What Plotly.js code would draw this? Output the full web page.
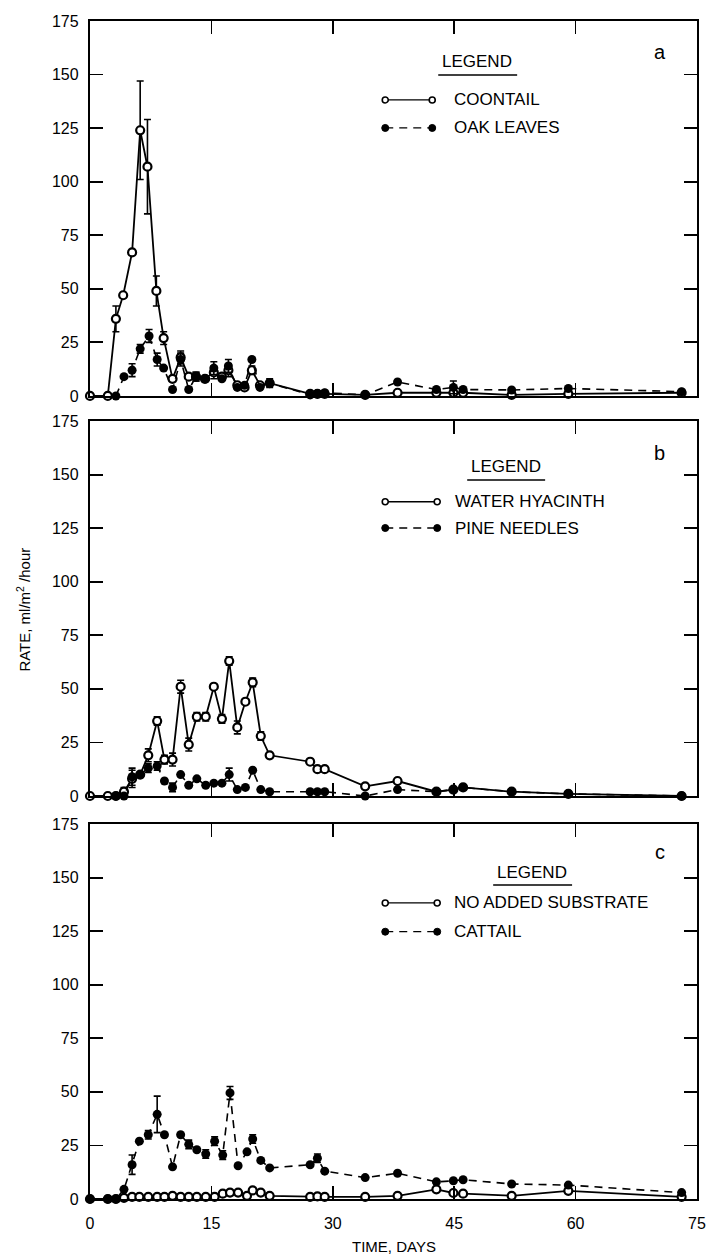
<!DOCTYPE html>
<html>
<head>
<meta charset="utf-8">
<script src="https://cdn.plot.ly/plotly-3.0.1.min.js"></script>
<style>html,body{margin:0;padding:0;background:#fff;}#chart{width:720px;height:1255px;}</style>
</head>
<body>
<div id="chart"></div>
<script>
// ---------- DATA ----------
// Panel a
const daysA_coon = [0, 2.2, 3.2, 4.1, 5.2, 6.2, 7.1, 8.2, 9.1, 10.2, 11.2, 12.2, 13.1, 14.2, 15.3, 16.3, 17.1, 18.2, 19.1, 20.0, 21.0, 22.2, 27.2, 28.1, 29.0, 34.0, 38.0, 42.8, 44.9, 46.1, 52.1, 59.1, 73.1];
const rateA_coon = [0, 0, 36, 47, 67, 124, 107, 49, 27, 8, 18, 9, 9, 8, 11, 9, 12, 5, 4, 12, 5, 6, 1, 1, 1, 0.5, 1.5, 1.5, 1.5, 1.5, 0.5, 1, 1.5];
const errA_coon  = [0, 0, 6, 0, 0, 23, 22, 7, 3, 0, 3, 0, 2, 0, 3, 0, 3, 0, 0, 2, 0, 2, 0, 0, 0, 0, 0, 0, 0, 0, 0, 0, 0];
const daysA_oak = [3.2, 4.2, 5.2, 6.2, 7.3, 8.3, 9.1, 10.2, 11.2, 12.2, 13.1, 14.3, 15.3, 16.3, 17.1, 18.2, 19.1, 20.0, 21.0, 22.2, 27.2, 28.1, 29.0, 34.0, 38.0, 42.8, 44.9, 46.1, 52.1, 59.1, 73.1];
const rateA_oak = [0, 9, 12, 22, 28, 17, 13, 3, 17, 3, 9, 8, 13, 8, 14, 4, 5, 17, 4, 6, 0.5, 1, 1.5, 0.5, 6.5, 3, 4, 3, 2.8, 3.5, 2];
const errA_oak  = [0, 0, 3, 2, 3, 3, 0, 0, 3, 0, 2, 0, 3, 0, 3, 0, 0, 0, 0, 0, 0, 0, 0, 0, 0, 0, 3, 0, 0, 0, 0];

// Panel b
const daysB_hya = [0, 2.2, 3.2, 4.2, 5.2, 6.2, 7.2, 8.3, 9.2, 10.2, 11.2, 12.2, 13.2, 14.3, 15.3, 16.3, 17.2, 18.2, 19.2, 20.1, 21.1, 22.2, 27.2, 28.1, 29.0, 34.0, 38.0, 42.8, 44.9, 46.1, 52.1, 59.1, 73.1];
const rateB_hya = [0, 0, 0, 2, 8, 10, 19, 35, 17, 17, 51, 24, 37, 37, 51, 36, 63, 32, 44, 53, 28, 19, 16, 12.5, 12.5, 4.5, 7, 2, 3, 4, 2, 1, 0];
const errB_hya  = [0, 0, 0, 2, 4, 0, 3, 2, 2, 3, 3, 3, 2, 2, 0, 2, 2, 3, 0, 2, 2, 0, 0, 0, 0, 0, 0, 0, 0, 0, 0, 0, 0];
const daysB_pine = [3.2, 4.2, 5.2, 6.2, 7.2, 8.3, 9.2, 10.2, 11.2, 12.2, 13.2, 14.3, 15.3, 16.3, 17.2, 18.2, 19.2, 20.1, 21.1, 22.2, 27.2, 28.1, 29.0, 34.0, 38.0, 42.8, 44.9, 46.1, 52.1, 59.1, 73.1];
const rateB_pine = [0, 0, 9, 10, 13, 14, 7, 4, 10, 5, 8, 5, 6, 6, 10, 3, 4, 12, 3, 2, 2, 2, 2, 0, 3, 2, 3, 4, 2, 1, 0];
const errB_pine  = [0, 0, 4, 0, 2, 2, 0, 2, 0, 0, 0, 0, 0, 0, 3, 0, 0, 0, 0, 0, 0, 0, 0, 0, 0, 0, 0, 0, 0, 0, 0];

// Panel c
const daysC = [0, 2.2, 3.2, 4.2, 5.2, 6.1, 7.2, 8.3, 9.2, 10.2, 11.2, 12.2, 13.2, 14.3, 15.4, 16.4, 17.3, 18.3, 19.4, 20.1, 21.1, 22.2, 27.2, 28.1, 29.0, 34.0, 38.0, 42.8, 44.9, 46.1, 52.1, 59.1, 73.1];
const rateC_none = [0, 0, 0, 0.5, 1, 1, 1, 1, 1, 1.5, 1, 1, 1, 1, 1, 2.5, 3, 3, 1.5, 4, 3, 1.5, 1, 1.2, 1, 1, 1.5, 4.5, 2.8, 2.5, 1.5, 3.8, 1];
const rateC_cat  = [0, 0, 0, 4.5, 16, 27, 30, 39.5, 30, 15, 30, 25.5, 23, 21, 27, 20.5, 49.5, 15.5, 22, 28, 18, 14.5, 16, 19, 13, 10, 12, 8, 8.5, 9, 7, 6.5, 3];
const errC_cat   = [0, 0, 0, 0, 4.5, 0, 2, 8.5, 0, 0, 0, 2, 0, 2, 2, 2, 3, 0, 0, 2, 0, 0, 0, 2, 0, 0, 0, 0, 0, 0, 0, 0, 0];

const xTicks = [0, 15, 30, 45, 60, 75];
const yTicks = [0, 25, 50, 75, 100, 125, 150, 175];
const legendNames = [["COONTAIL", "OAK LEAVES"], ["WATER HYACINTH", "PINE NEEDLES"], ["NO ADDED SUBSTRATE", "CATTAIL"]];
const panelLetters = ["a", "b", "c"];

// ---------- TRACES ----------
const FONT = "Liberation Sans, Arial, sans-serif";
function solidTrace(x, y, err, xa, ya, name) {
  return {
    type: "scatter", mode: "lines+markers", x: x, y: y, xaxis: xa, yaxis: ya, name: name,
    line: {color: "black", width: 1.8},
    marker: {symbol: "circle", size: 8, color: "white", line: {color: "black", width: 2.2}},
    error_y: err ? {type: "data", array: err, visible: true, color: "black", thickness: 1.6, width: 3.5} : undefined,
    cliponaxis: false, showlegend: false
  };
}
function dashTrace(x, y, err, xa, ya, name) {
  return {
    type: "scatter", mode: "lines+markers", x: x, y: y, xaxis: xa, yaxis: ya, name: name,
    line: {color: "black", width: 1.6, dash: "8px,6px"},
    marker: {symbol: "circle", size: 9, color: "black"},
    error_y: err ? {type: "data", array: err, visible: true, color: "black", thickness: 1.6, width: 3.5} : undefined,
    cliponaxis: false, showlegend: false
  };
}

const data = [
  solidTrace(daysA_coon, rateA_coon, errA_coon, "x", "y", legendNames[0][0]),
  dashTrace(daysA_oak, rateA_oak, errA_oak, "x", "y", legendNames[0][1]),
  solidTrace(daysB_hya, rateB_hya, errB_hya, "x2", "y2", legendNames[1][0]),
  dashTrace(daysB_pine, rateB_pine, errB_pine, "x2", "y2", legendNames[1][1]),
  solidTrace(daysC, rateC_none, null, "x3", "y3", legendNames[2][0]),
  dashTrace(daysC, rateC_cat, errC_cat, "x3", "y3", legendNames[2][1])
];

// ---------- LAYOUT ----------
const domains = [[0.6817, 1.0], [0.3421, 0.6604], [0.0, 0.3183]];
function xAxis(anchor, showLabels) {
  return {
    domain: [0, 1], anchor: anchor, range: [0, 75], tickvals: xTicks, ticktext: xTicks.map(String),
    ticks: "inside", ticklen: 13, tickwidth: 1.8, tickcolor: "black",
    showline: true, linewidth: 2.2, linecolor: "black", mirror: "ticks",
    showgrid: false, zeroline: false, showticklabels: showLabels,
    tickfont: {family: FONT, size: 16, color: "black"}, ticklabelstandoff: 9
  };
}
function yAxis(anchor, dom) {
  return {
    domain: dom, anchor: anchor, range: [0, 175], tickvals: yTicks, ticktext: yTicks.map(String),
    ticks: "inside", ticklen: 13, tickwidth: 1.8, tickcolor: "black",
    showline: true, linewidth: 2.2, linecolor: "black", mirror: "ticks",
    showgrid: false, zeroline: false,
    tickfont: {family: FONT, size: 16, color: "black"}, ticklabelstandoff: 6
  };
}

// legend geometry (paper coords) per panel
const legPos = [
  {lx: 0.638, ly: 0.9660, ux0: 0.5737, ux1: 0.7037, uy: 0.9542, e1: 0.9330, e2: 0.9092, lx0: 0.4864, lx1: 0.5638, tx: 0.5967, let: [0.939, 0.9737]},
  {lx: 0.6856, ly: 0.6214, ux0: 0.6214, ux1: 0.7498, uy: 0.6104, e1: 0.5919, e2: 0.5696, lx0: 0.4864, lx1: 0.5720, tx: 0.5984, let: [0.939, 0.6333]},
  {lx: 0.7284, ly: 0.2772, ux0: 0.6642, ux1: 0.7942, uy: 0.2666, e1: 0.2513, e2: 0.2269, lx0: 0.4864, lx1: 0.5720, tx: 0.5967, let: [0.939, 0.2948]}
];

const annotations = [];
const shapes = [];
legPos.forEach((p, i) => {
  annotations.push({xref: "paper", yref: "paper", x: p.lx, y: p.ly, text: "LEGEND", showarrow: false,
    xanchor: "center", yanchor: "middle", font: {family: FONT, size: 17, color: "black"}});
  shapes.push({type: "line", xref: "paper", yref: "paper", x0: p.ux0, x1: p.ux1, y0: p.uy, y1: p.uy, line: {color: "black", width: 1.5}});
  shapes.push({type: "line", xref: "paper", yref: "paper", x0: p.lx0, x1: p.lx1, y0: p.e1, y1: p.e1, line: {color: "black", width: 1.3}});
  shapes.push({type: "line", xref: "paper", yref: "paper", x0: p.lx0, x1: p.lx1, y0: p.e2, y1: p.e2, line: {color: "black", width: 1.3, dash: "8px,6px"}});
  [p.lx0, p.lx1].forEach(xx => {
    shapes.push({type: "circle", xref: "paper", yref: "paper", xsizemode: "pixel", ysizemode: "pixel",
      xanchor: xx, yanchor: p.e1, x0: -3, x1: 3, y0: -3, y1: 3, fillcolor: "white", line: {color: "black", width: 1.6}});
    shapes.push({type: "circle", xref: "paper", yref: "paper", xsizemode: "pixel", ysizemode: "pixel",
      xanchor: xx, yanchor: p.e2, x0: -3.5, x1: 3.5, y0: -3.5, y1: 3.5, fillcolor: "black", line: {color: "black", width: 1}});
  });
  annotations.push({xref: "paper", yref: "paper", x: p.tx, y: p.e1, text: legendNames[i][0], showarrow: false,
    xanchor: "left", yanchor: "middle", font: {family: FONT, size: 17, color: "black"}});
  annotations.push({xref: "paper", yref: "paper", x: p.tx, y: p.e2, text: legendNames[i][1], showarrow: false,
    xanchor: "left", yanchor: "middle", font: {family: FONT, size: 17, color: "black"}});
  annotations.push({xref: "paper", yref: "paper", x: p.let[0], y: p.let[1], text: panelLetters[i], showarrow: false,
    xanchor: "center", yanchor: "middle", font: {family: FONT, size: 20, color: "black"}});
});
annotations.push({xref: "paper", yref: "paper", x: -0.111, y: 0.5, text: "RATE, ml/m<sup>2</sup> /hour", textangle: -90,
  showarrow: false, xanchor: "center", yanchor: "middle", font: {family: FONT, size: 15, color: "black"}});
annotations.push({xref: "paper", yref: "paper", x: 0.5, y: -0.040, text: "TIME, DAYS",
  showarrow: false, xanchor: "center", yanchor: "middle", font: {family: FONT, size: 15, color: "black"}});

const layout = {
  width: 720, height: 1255,
  margin: {l: 90, r: 23, t: 21, b: 56},
  paper_bgcolor: "white", plot_bgcolor: "white",
  showlegend: false,
  xaxis: xAxis("y", false),
  yaxis: yAxis("x", domains[0]),
  xaxis2: xAxis("y2", false),
  yaxis2: yAxis("x2", domains[1]),
  xaxis3: xAxis("y3", true),
  yaxis3: yAxis("x3", domains[2]),
  annotations: annotations,
  shapes: shapes
};

Plotly.newPlot("chart", data, layout, {displayModeBar: false, staticPlot: true});
</script>
</body>
</html>
